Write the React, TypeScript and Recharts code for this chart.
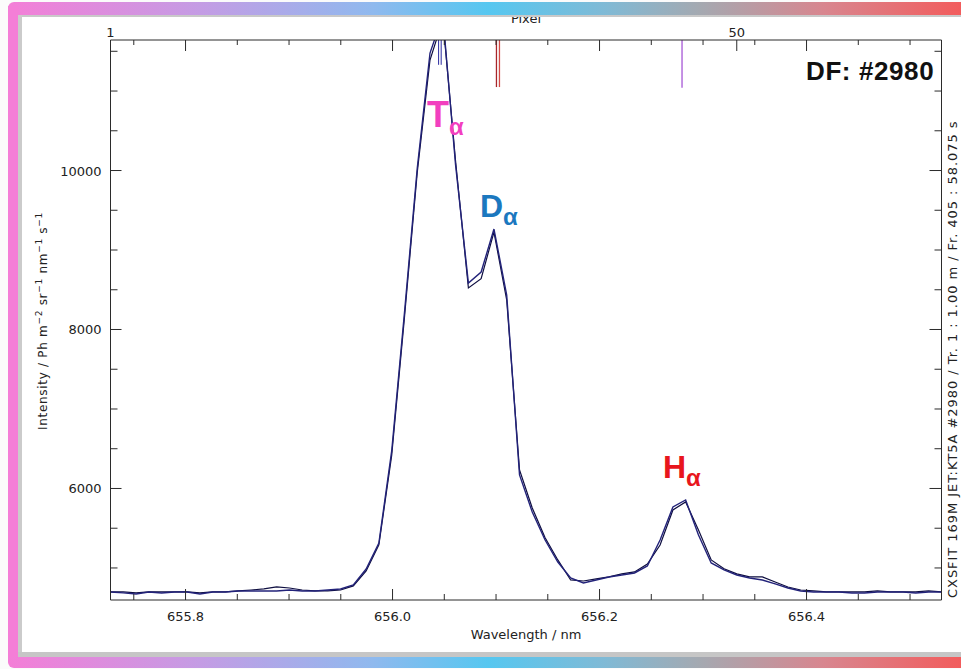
import React from "react";
import {
  LineChart,
  Line,
  XAxis,
  YAxis,
  ReferenceLine,
  ReferenceDot,
} from "recharts";

// ---- data ----
const WAVELENGTH = [
  655.7275, 655.7398, 655.7522, 655.7645, 655.7769, 655.7892, 655.8016, 655.8139,
  655.8263, 655.8386, 655.851, 655.8633, 655.8757, 655.888, 655.9004, 655.9127,
  655.9251, 655.9374, 655.9498, 655.9621, 655.9745, 655.9868, 655.9992, 656.0115,
  656.0239, 656.0362, 656.0486, 656.0609, 656.0733, 656.0856, 656.098, 656.1103,
  656.1227, 656.135, 656.1474, 656.1597, 656.1721, 656.1844, 656.1968, 656.2091,
  656.2215, 656.2338, 656.2462, 656.2585, 656.2709, 656.2832, 656.2956, 656.3079,
  656.3203, 656.3326, 656.345, 656.3573, 656.3697, 656.382, 656.3944, 656.4067,
  656.4191, 656.4314, 656.4438, 656.4561, 656.4685, 656.4808, 656.4932, 656.5055,
  656.5179, 656.5302,
];

const MEASURED = [
  4698, 4686, 4673, 4698, 4686, 4698, 4698, 4673, 4698, 4698, 4711, 4711, 4711, 4711,
  4723, 4711, 4711, 4723, 4736, 4786, 4987, 5314, 6472, 8208, 10031, 11478, 11950,
  10069, 8585, 8723, 9264, 8434, 6170, 5704, 5352, 5075, 4874, 4811, 4849, 4887, 4912,
  4937, 5025, 5352, 5767, 5855, 5415, 5063, 4975, 4912, 4874, 4849, 4799, 4748, 4711,
  4698, 4698, 4698, 4686, 4686, 4698, 4698, 4698, 4686, 4698, 4698,
];

const FIT = [
  4698, 4698, 4686, 4698, 4698, 4698, 4698, 4686, 4698, 4698, 4711, 4723, 4736, 4761,
  4748, 4723, 4711, 4711, 4723, 4774, 4962, 5290, 6420, 8150, 9980, 11390, 11900,
  10120, 8522, 8640, 9226, 8371, 6233, 5755, 5380, 5101, 4849, 4836, 4862, 4887, 4925,
  4950, 5050, 5289, 5730, 5830, 5478, 5101, 4990, 4925, 4887, 4887, 4824, 4761, 4723,
  4711, 4698, 4698, 4698, 4698, 4711, 4698, 4698, 4698, 4711, 4698,
];

const X_TICKS = [
  655.75, 655.8, 655.85, 655.9, 655.95, 656.0, 656.05, 656.1, 656.15, 656.2, 656.25,
  656.3, 656.35, 656.4, 656.45, 656.5,
];
const X_LABELED = [655.8, 656.0, 656.2, 656.4];
const Y_TICKS = [
  5000, 5500, 6000, 6500, 7000, 7500, 8000, 8500, 9000, 9500, 10000, 10500, 11000, 11500,
];
const Y_LABELED = [6000, 8000, 10000];
const PIXEL_LABELS = [1, 50];

// line markers (wavelengths of the species)
const T_MARK = [656.0445, 656.047];
const D_MARK = [656.1004, 656.1033];
const H_MARK = [656.2797];

// annotation anchors
const LINE_LABELS = [
  { name: "T", wl: 656.0333, value: 10547, color: "#f23fbf", size: 36 },
  { name: "D", wl: 656.0845, value: 9415, color: "#1b78bf", size: 32 },
  { name: "H", wl: 656.2613, value: 6132, color: "#e8161d", size: 32 },
];

const WL_MIN = 655.7275;
const WL_MAX = 656.5304;
const Y_MIN = 4597;
const Y_MAX = 11642;
const PX_MIN = 1;
const PX_MAX = 66.02;

const wlToPx = (w: number) =>
  PX_MIN + ((w - WL_MIN) / (WL_MAX - WL_MIN)) * (PX_MAX - PX_MIN);

const TOP_TICKS = [...PIXEL_LABELS, ...X_TICKS.map(wlToPx)];
const TOP_MAJOR = X_LABELED.map(wlToPx);

const rows = WAVELENGTH.map((wl, i) => ({
  px: i + 1,
  wl,
  measured: MEASURED[i],
  fit: FIT[i],
}));

const AXIS = "#2b2b2b";
const TXT = "#222";
const FONT = "'DejaVu Sans', sans-serif";
const near = (a: number, list: number[]) => list.some((b) => Math.abs(a - b) < 1e-6);

function BottomTick(props: any) {
  const { x, y, payload } = props;
  const v = payload.value;
  const major = near(v, X_LABELED);
  return (
    <g>
      <line x1={x} x2={x} y1={y} y2={y - (major ? 11 : 6)} stroke={AXIS} strokeWidth={1} />
      {major && (
        <text x={x} y={y + 21} textAnchor="middle" fontSize={13} fontFamily={FONT} fill={TXT}>
          {v.toFixed(1)}
        </text>
      )}
    </g>
  );
}

function TopTick(props: any) {
  const { x, y, payload } = props;
  const v = payload.value;
  const isLabel = near(v, PIXEL_LABELS);
  const major = isLabel || near(v, TOP_MAJOR);
  return (
    <g>
      {v > PX_MIN + 0.01 && (
        <line x1={x} x2={x} y1={y} y2={y + (major ? 11 : 5)} stroke={AXIS} strokeWidth={1} />
      )}
      {isLabel && (
        <text x={x} y={y - 3} textAnchor="middle" fontSize={13} fontFamily={FONT} fill={TXT}>
          {v}
        </text>
      )}
    </g>
  );
}

function LeftTick(props: any) {
  const { x, y, payload } = props;
  const v = payload.value;
  const major = near(v, Y_LABELED);
  return (
    <g>
      <line x1={x} x2={x + (major ? 11 : 7)} y1={y} y2={y} stroke={AXIS} strokeWidth={1} />
      {major && (
        <text x={x - 9} y={y + 5} textAnchor="end" fontSize={13} fontFamily={FONT} fill={TXT}>
          {v}
        </text>
      )}
    </g>
  );
}

function RightTick(props: any) {
  const { x, y, payload } = props;
  const major = near(payload.value, Y_LABELED);
  return <line x1={x} x2={x - (major ? 12 : 7)} y1={y} y2={y} stroke={AXIS} strokeWidth={1} />;
}

const bar =
  "linear-gradient(90deg, #f47ed7 0%, #c49ce4 20%, #8fb9ee 38%, #56c7f0 50%, #7fbad6 62%, #a4a9b1 72%, #d8868f 85%, #f35a5a 100%)";

export default function App() {
  return (
    <div
      style={{
        position: "absolute",
        left: 0,
        top: 0,
        width: 961,
        height: 669,
        overflow: "hidden",
        background: "#fbfbfb",
      }}
    >
      <div style={{ position: "absolute", left: 18, top: 15, width: 943, height: 642, background: "#fff" }} />
      <div style={{ position: "absolute", left: 0, top: 0 }}>
        <LineChart width={961} height={669} data={rows} margin={{ top: 0, right: 0, bottom: 0, left: 0 }}>
          <XAxis
            xAxisId="bottom"
            dataKey="wl"
            type="number"
            domain={[WL_MIN, WL_MAX]}
            allowDataOverflow
            ticks={X_TICKS}
            interval={0}
            tickSize={0}
            tickMargin={0}
            tickLine={false}
            tick={(p: any) => <BottomTick {...p} />}
            height={69}
            axisLine={{ stroke: AXIS, strokeWidth: 1 }}
            label={{
              content: (p: any) => {
                const vb = p.viewBox;
                return (
                  <text
                    x={vb.x + vb.width / 2}
                    y={vb.y + 39}
                    textAnchor="middle"
                    fontSize={13}
                    fontFamily={FONT}
                    fill={TXT}
                  >
                    Wavelength / nm
                  </text>
                );
              },
            }}
          />
          <XAxis
            xAxisId="top"
            orientation="top"
            dataKey="px"
            type="number"
            domain={[PX_MIN, PX_MAX]}
            allowDataOverflow
            ticks={TOP_TICKS}
            interval={0}
            tickSize={0}
            tickMargin={0}
            tickLine={false}
            tick={(p: any) => <TopTick {...p} />}
            height={40}
            axisLine={{ stroke: AXIS, strokeWidth: 1 }}
            label={{
              content: (p: any) => {
                const vb = p.viewBox;
                return (
                  <text
                    x={vb.x + vb.width / 2}
                    y={23}
                    textAnchor="middle"
                    fontSize={13}
                    fontFamily={FONT}
                    fill={TXT}
                  >
                    Pixel
                  </text>
                );
              },
            }}
          />
          <YAxis
            yAxisId="left"
            type="number"
            domain={[Y_MIN, Y_MAX]}
            allowDataOverflow
            ticks={Y_TICKS}
            interval={0}
            tickSize={0}
            tickMargin={0}
            tickLine={false}
            tick={(p: any) => <LeftTick {...p} />}
            width={110.5}
            axisLine={{ stroke: AXIS, strokeWidth: 1 }}
            label={{
              content: () => {
                const cx = 47;
                const cy = 321;
                return (
                  <text
                    x={cx}
                    y={cy}
                    transform={`rotate(-90, ${cx}, ${cy})`}
                    textAnchor="middle"
                    fontSize={12}
                    letterSpacing={0.7}
                    fontFamily={FONT}
                    fill={TXT}
                  >
                    Intensity / Ph m
                    <tspan dy={-5} fontSize={9}>−2</tspan>
                    <tspan dy={5}> sr</tspan>
                    <tspan dy={-5} fontSize={9}>−1</tspan>
                    <tspan dy={5}> nm</tspan>
                    <tspan dy={-5} fontSize={9}>−1</tspan>
                    <tspan dy={5}> s</tspan>
                    <tspan dy={-5} fontSize={9}>−1</tspan>
                  </text>
                );
              },
            }}
          />
          <YAxis
            yAxisId="right"
            orientation="right"
            type="number"
            domain={[Y_MIN, Y_MAX]}
            allowDataOverflow
            ticks={Y_TICKS}
            interval={0}
            tickSize={0}
            tickMargin={0}
            tickLine={false}
            tick={(p: any) => <RightTick {...p} />}
            width={19.5}
            axisLine={{ stroke: AXIS, strokeWidth: 1 }}
            label={{
              content: () => {
                const cx = 957;
                const cy = 598;
                return (
                  <text
                    x={cx}
                    y={cy}
                    transform={`rotate(-90, ${cx}, ${cy})`}
                    textAnchor="start"
                    fontSize={13}
                    letterSpacing={0.95}
                    fontFamily={FONT}
                    fill={TXT}
                  >
                    CXSFIT 169M JET:KT5A #2980 / Tr. 1 : 1.00 m / Fr. 405 : 58.075 s
                  </text>
                );
              },
            }}
          />

          {T_MARK.map((w, i) => (
            <ReferenceLine
              key={"t" + i}
              xAxisId="bottom"
              yAxisId="left"
              segment={[
                { x: w, y: Y_MAX },
                { x: w, y: 11330 },
              ]}
              stroke="#2a2aa0"
              strokeWidth={1}
            />
          ))}
          {D_MARK.map((w, i) => (
            <ReferenceLine
              key={"d" + i}
              xAxisId="bottom"
              yAxisId="left"
              segment={[
                { x: w, y: Y_MAX },
                { x: w, y: 11050 },
              ]}
              stroke={i === 0 ? "#a8262a" : "#d24a45"}
              strokeWidth={1.3}
            />
          ))}
          {H_MARK.map((w, i) => (
            <ReferenceLine
              key={"h" + i}
              xAxisId="bottom"
              yAxisId="left"
              segment={[
                { x: w, y: Y_MAX },
                { x: w, y: 11040 },
              ]}
              stroke="#a657d6"
              strokeWidth={1.3}
            />
          ))}

          <Line
            xAxisId="bottom"
            yAxisId="left"
            type="linear"
            dataKey="fit"
            stroke="#0e0e40"
            strokeWidth={1.2}
            dot={false}
            isAnimationActive={false}
          />
          <Line
            xAxisId="bottom"
            yAxisId="left"
            type="linear"
            dataKey="measured"
            stroke="#23237a"
            strokeWidth={1.4}
            dot={false}
            isAnimationActive={false}
          />

          {LINE_LABELS.map((l) => (
            <ReferenceDot
              key={l.name}
              xAxisId="bottom"
              yAxisId="left"
              x={l.wl}
              y={l.value}
              r={0}
              shape={(p: any) => (
                <text
                  x={p.cx}
                  y={p.cy}
                  fill={l.color}
                  fontFamily="'Liberation Sans', Arial, sans-serif"
                  fontWeight="bold"
                  fontSize={l.size}
                >
                  {l.name}
                  <tspan dy={8} fontSize={24}>α</tspan>
                </text>
              )}
            />
          ))}
        </LineChart>
      </div>

      <div
        style={{
          position: "absolute",
          left: 806,
          top: 58,
          fontFamily: "'Liberation Sans', Arial, sans-serif",
          fontWeight: "bold",
          fontSize: 26,
          letterSpacing: 0.6,
          lineHeight: "26px",
          color: "#111",
          whiteSpace: "nowrap",
        }}
      >
        DF: #2980
      </div>

      {/* frame decoration */}
      <div style={{ position: "absolute", left: 8, top: 2, width: 960, height: 13, background: bar, borderTopLeftRadius: 6 }} />
      <div style={{ position: "absolute", left: 18, top: 15, width: 943, height: 2, background: "#c9c9c9" }} />
      <div style={{ position: "absolute", left: 8, top: 6, width: 10, height: 660, background: "#f47ed7", borderBottomLeftRadius: 6 }} />
      <div style={{ position: "absolute", left: 18, top: 15, width: 4, height: 640, background: "#cbcbcb" }} />
      <div style={{ position: "absolute", left: 18, top: 652, width: 943, height: 5, background: "#c6c6c6" }} />
      <div style={{ position: "absolute", left: 8, top: 657, width: 960, height: 11, background: bar, borderBottomLeftRadius: 6 }} />
    </div>
  );
}
